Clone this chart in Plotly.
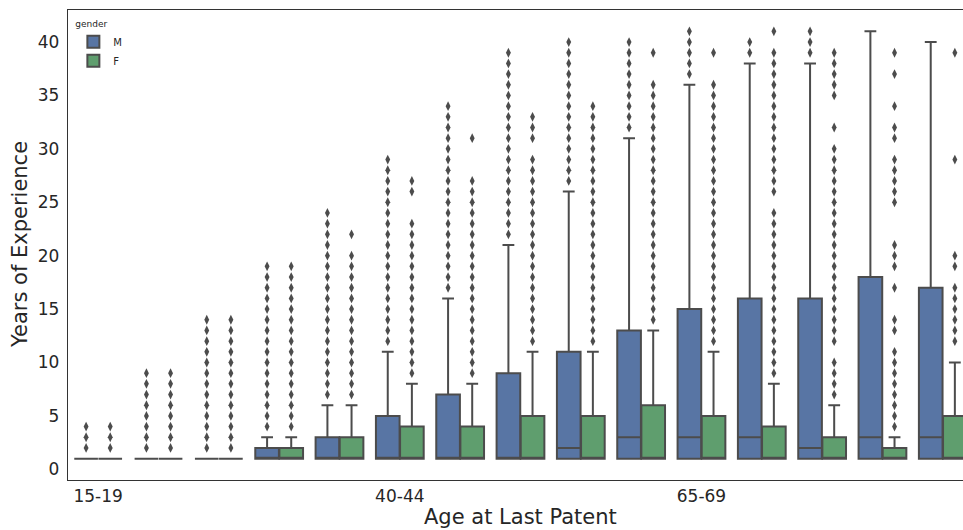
import plotly.graph_objects as go

categories = ["15-19", "20-24", "25-29", "30-34", "35-39", "40-44", "45-49", "50-54",
              "55-59", "60-64", "65-69", "70-74", "75-79", "80-84", "85-89"]

# Male box statistics
m_lower = [1, 1, 1, 1, 1, 1, 1, 1, 1, 1, 1, 1, 1, 1, 1]
m_q1 = [1, 1, 1, 1, 1, 1, 1, 1, 1, 1, 1, 1, 1, 1, 1]
m_median = [1, 1, 1, 1, 1, 1, 1, 1, 2, 3, 3, 3, 2, 3, 3]
m_q3 = [1, 1, 1, 2, 3, 5, 7, 9, 11, 13, 15, 16, 16, 18, 17]
m_upper = [1, 1, 1, 3, 6, 11, 16, 21, 26, 31, 36, 38, 38, 41, 40]

# Female box statistics
f_lower = [1, 1, 1, 1, 1, 1, 1, 1, 1, 1, 1, 1, 1, 1, 1]
f_q1 = [1, 1, 1, 1, 1, 1, 1, 1, 1, 1, 1, 1, 1, 1, 1]
f_median = [1, 1, 1, 1, 1, 1, 1, 1, 1, 1, 1, 1, 1, 1, 1]
f_q3 = [1, 1, 1, 2, 3, 4, 4, 5, 5, 6, 5, 4, 3, 2, 5]
f_upper = [1, 1, 1, 3, 6, 8, 8, 11, 11, 13, 11, 8, 6, 3, 10]

# Outliers (fliers) per age group
m_outliers = [
    [2, 3, 4],
    [2, 3, 4, 5, 6, 7, 8, 9],
    [2, 3, 4, 5, 6, 7, 8, 9, 10, 11, 12, 13, 14],
    [4, 5, 6, 7, 8, 9, 10, 11, 12, 13, 14, 15, 16, 17, 18, 19],
    [7, 8, 9, 10, 11, 12, 13, 14, 15, 16, 17, 18, 19, 20, 21, 22, 23, 24],
    [12, 13, 14, 15, 16, 17, 18, 19, 20, 21, 22, 23, 24, 25, 26, 27, 28, 29],
    [17, 18, 19, 20, 21, 22, 23, 24, 25, 26, 27, 28, 29, 30, 31, 32, 33, 34],
    [22, 23, 24, 25, 26, 27, 28, 29, 30, 31, 32, 33, 34, 35, 36, 37, 38, 39],
    [27, 28, 29, 30, 31, 32, 33, 34, 35, 36, 37, 38, 39, 40],
    [32, 33, 34, 35, 36, 37, 38, 39, 40],
    [37, 38, 39, 40, 41],
    [39, 40],
    [39, 40, 41],
    [],
    [],
]
f_outliers = [
    [2, 3, 4],
    [2, 3, 4, 5, 6, 7, 8, 9],
    [2, 3, 4, 5, 6, 7, 8, 9, 10, 11, 12, 13, 14],
    [4, 5, 6, 7, 8, 9, 10, 11, 12, 13, 14, 15, 16, 17, 18, 19],
    [7, 8, 9, 10, 11, 12, 13, 14, 15, 16, 17, 18, 19, 20, 22],
    [9, 10, 11, 12, 13, 14, 15, 16, 17, 18, 19, 20, 21, 22, 23, 26, 27],
    [9, 10, 11, 12, 13, 14, 15, 16, 17, 18, 19, 20, 21, 22, 23, 24, 25, 26, 27, 31],
    [12, 13, 14, 15, 16, 17, 18, 19, 20, 21, 22, 23, 24, 25, 26, 27, 28, 29, 31, 32, 33],
    [12, 13, 14, 15, 16, 17, 18, 19, 20, 21, 22, 23, 24, 25, 26, 27, 28, 29, 30, 31, 32, 33, 34],
    [14, 15, 16, 17, 18, 19, 20, 21, 22, 23, 24, 25, 26, 27, 28, 29, 30, 31, 32, 33, 34, 35, 36, 39],
    [12, 13, 14, 15, 16, 17, 18, 19, 20, 21, 22, 23, 24, 25, 26, 27, 28, 29, 30, 31, 32, 33, 34, 35, 36, 39],
    [9, 10, 11, 12, 13, 14, 15, 16, 17, 18, 19, 20, 21, 22, 23, 24, 26, 27, 28, 29, 30, 31, 32, 33,
     34, 35, 36, 37, 38, 39, 41],
    [7, 8, 9, 10, 12, 13, 14, 15, 16, 17, 18, 19, 20, 21, 22, 23, 24, 25, 26, 27, 28, 29, 30, 32,
     35, 36, 37, 38, 39],
    [4, 5, 6, 7, 8, 9, 10, 11, 13, 14, 17, 19, 20, 21, 25, 26, 27, 28, 29, 31, 32, 34, 37, 39],
    [12, 13, 14, 15, 16, 17, 19, 20, 29, 39],
]

tick_every = 5

M_COLOR = "#5875A4"
F_COLOR = "#5F9E6E"
GRAY = "#4c4c4c"
FONT = "DejaVu Sans"

idx = list(range(len(categories)))
offset = 0.2
box_w = 0.392

fig = go.Figure()

for name, color, lower, q1, med, q3, upper, outl, sign in [
    ("M", M_COLOR, m_lower, m_q1, m_median, m_q3, m_upper, m_outliers, -1),
    ("F", F_COLOR, f_lower, f_q1, f_median, f_q3, f_upper, f_outliers, 1),
]:
    xs = [i + sign * offset for i in idx]
    fig.add_trace(go.Box(
        name=name, x=xs, q1=q1, median=med, q3=q3,
        lowerfence=lower, upperfence=upper,
        width=box_w, fillcolor=color,
        line=dict(color=GRAY, width=2), whiskerwidth=0.5,
        boxpoints=False, hoverinfo="skip", showlegend=True,
    ))
    ox, oy = [], []
    for i, vals in zip(idx, outl):
        for v in vals:
            ox.append(i + sign * offset)
            oy.append(v)
    fig.add_trace(go.Scatter(
        x=ox, y=oy, mode="markers", showlegend=False, hoverinfo="skip",
        marker=dict(symbol="diamond-tall", size=7, color=GRAY, line=dict(width=0)),
    ))

tickvals = [i for i in idx if i % tick_every == 0]

fig.update_layout(
    width=963, height=530,
    margin=dict(l=68, r=0, t=10, b=50),
    paper_bgcolor="white", plot_bgcolor="white",
    boxmode="overlay",
    font=dict(family=FONT, color="#262626"),
    legend=dict(
        x=0.006, y=0.988, xanchor="left", yanchor="top",
        title=dict(text="gender", font=dict(size=9, family=FONT, color="#262626")),
        font=dict(size=10, family=FONT, color="#262626"),
        bgcolor="rgba(0,0,0,0)", tracegroupgap=0,
    ),
    xaxis=dict(
        range=[-0.5, 14.335], tickvals=tickvals,
        ticktext=[categories[i] for i in tickvals],
        showgrid=False, zeroline=False, showline=True, mirror=True,
        linecolor="#333333", linewidth=1.3, ticks="",
        tickfont=dict(size=17, family=FONT, color="#262626"),
    ),
    yaxis=dict(
        range=[-1, 43], tickvals=[0, 5, 10, 15, 20, 25, 30, 35, 40],
        showgrid=False, zeroline=False, showline=True, mirror=False,
        linecolor="#333333", linewidth=1.3,
        ticks="outside", ticklen=4, tickcolor="rgba(0,0,0,0)",
        tickfont=dict(size=17, family=FONT, color="#262626"),
    ),
    annotations=[
        dict(text="Years of Experience", xref="paper", yref="paper",
             x=-0.0536, y=0.5, xanchor="center", yanchor="middle", textangle=-90,
             showarrow=False, font=dict(size=21, family=FONT, color="#262626")),
        dict(text="Age at Last Patent", xref="paper", yref="paper",
             x=0.506, y=-0.079, xanchor="center", yanchor="middle",
             showarrow=False, font=dict(size=21, family=FONT, color="#262626")),
    ],
)

fig.write_html("out.html")
